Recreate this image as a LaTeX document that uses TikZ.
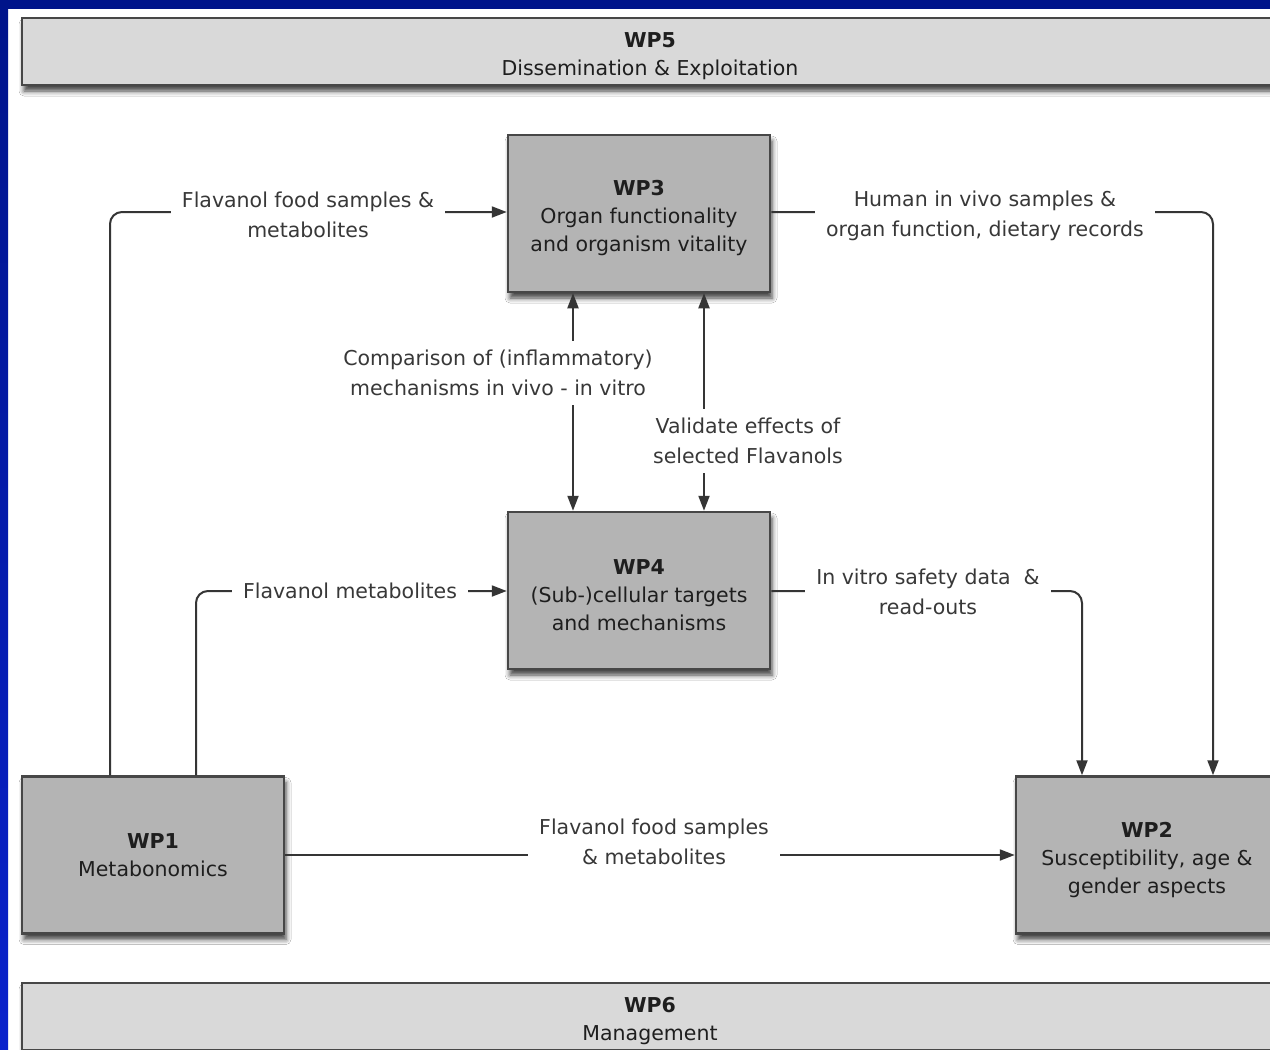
\documentclass[tikz,border=0pt]{standalone}
\usepackage{fontspec}
\setmainfont{DejaVu Sans}
\usetikzlibrary{arrows.meta,shadows.blur}

\definecolor{navy}{HTML}{00148A}
\definecolor{royal}{HTML}{0A22CC}
\definecolor{edge}{HTML}{474747}
\definecolor{wpfill}{HTML}{B4B4B4}
\definecolor{barfill}{HTML}{D9D9D9}
\definecolor{ink}{HTML}{1E1E1E}
\definecolor{labelink}{HTML}{383838}
\definecolor{wire}{HTML}{353535}

% taller first line, so the block of text sits a little lower in its box
\newcommand{\firstpad}{\rule{0pt}{25pt}}

\tikzset{
  wpbox/.style={draw=edge, line width=2.5pt, fill=wpfill, text=ink,
    align=center, inner sep=0pt, minimum width=262pt, minimum height=157pt,
    font=\fontsize{20.5}{28}\selectfont,
    blur shadow={shadow xshift=2pt, shadow yshift=-6pt, shadow blur radius=5pt, shadow opacity=75}},
  barbox/.style={wpbox, fill=barfill, minimum width=1256pt, minimum height=67pt},
  conn/.style={draw=wire, line width=2pt, rounded corners=12pt,
    -{Triangle[length=15pt,width=11pt]}},
  bothconn/.style={conn, {Triangle[length=15pt,width=11pt]}-{Triangle[length=15pt,width=11pt]}},
  lbl/.style={fill=white, text=labelink, align=center, inner xsep=11pt, inner ysep=9pt,
    font=\fontsize{20.5}{29.5}\selectfont}
}

\begin{document}
\begin{tikzpicture}[x=1pt,y=-1pt]
  \useasboundingbox (0,0) rectangle (1270,1050);
  \clip (0,0) rectangle (1270,1050);

  % slide frame
  \fill[white] (0,0) rectangle (1270,1050);
  \fill[navy] (0,0) rectangle (1270,9);
  \shade[top color=navy, bottom color=royal] (0,0) rectangle (8,1050);

  % work packages
  \node[barbox] (wp5) at (650,51.5) {\firstpad\textbf{WP5}\\Dissemination \& Exploitation};
  \node[barbox] (wp6) at (650,1016.5) {\firstpad\textbf{WP6}\\Management};
  \node[wpbox] (wp3) at (639,213.5) {\firstpad\textbf{WP3}\\Organ functionality\\and organism vitality};
  \node[wpbox] (wp4) at (639,590.5) {\firstpad\textbf{WP4}\\(Sub-)cellular targets\\and mechanisms};
  \node[wpbox] (wp1) at (153,855) {\textbf{WP1}\\Metabonomics};
  \node[wpbox] (wp2) at (1147,855) {\firstpad\textbf{WP2}\\Susceptibility, age \&\\gender aspects};

  % routing points
  \coordinate (k1) at (110,212);
  \coordinate (k2) at (196,591);
  \coordinate (k3) at (1213,212);
  \coordinate (k4) at (1082,591);
  \coordinate (k6) at (573,0);
  \coordinate (k7) at (704,0);

  % connectors
  \draw[conn] (k1 |- wp1.north) -- (k1) -- (k1 -| wp3.west);
  \draw[conn] (k2 |- wp1.north) -- (k2) -- (k2 -| wp4.west);
  \draw[conn] (k3 -| wp3.east) -- (k3) -- (k3 |- wp2.north);
  \draw[conn] (k4 -| wp4.east) -- (k4) -- (k4 |- wp2.north);
  \draw[conn] (wp1.east) -- (wp2.west);
  \draw[bothconn] (k6 |- wp3.south) -- (k6 |- wp4.north);
  \draw[bothconn] (k7 |- wp3.south) -- (k7 |- wp4.north);

  % connector labels
  \node[lbl] (l1) at (308,215) {Flavanol food samples \&\\metabolites};
  \node[lbl] (l2) at (350,591) {Flavanol metabolites};
  \node[lbl] (l3) at (985,216) {Human in vivo samples \&\\organ function, dietary records};
  \node[lbl] (l4) at (928,592) {In vitro safety data~~\&\\read-outs};
  \node[lbl] (l5) at (654,842) {Flavanol food samples\\\& metabolites};
  \node[lbl] (l6) at (498,373) {Comparison of (inflammatory)\\mechanisms in vivo - in vitro};
  \node[lbl] (l7) at (748,441) {Validate effects of\\selected Flavanols};
\end{tikzpicture}
\end{document}
